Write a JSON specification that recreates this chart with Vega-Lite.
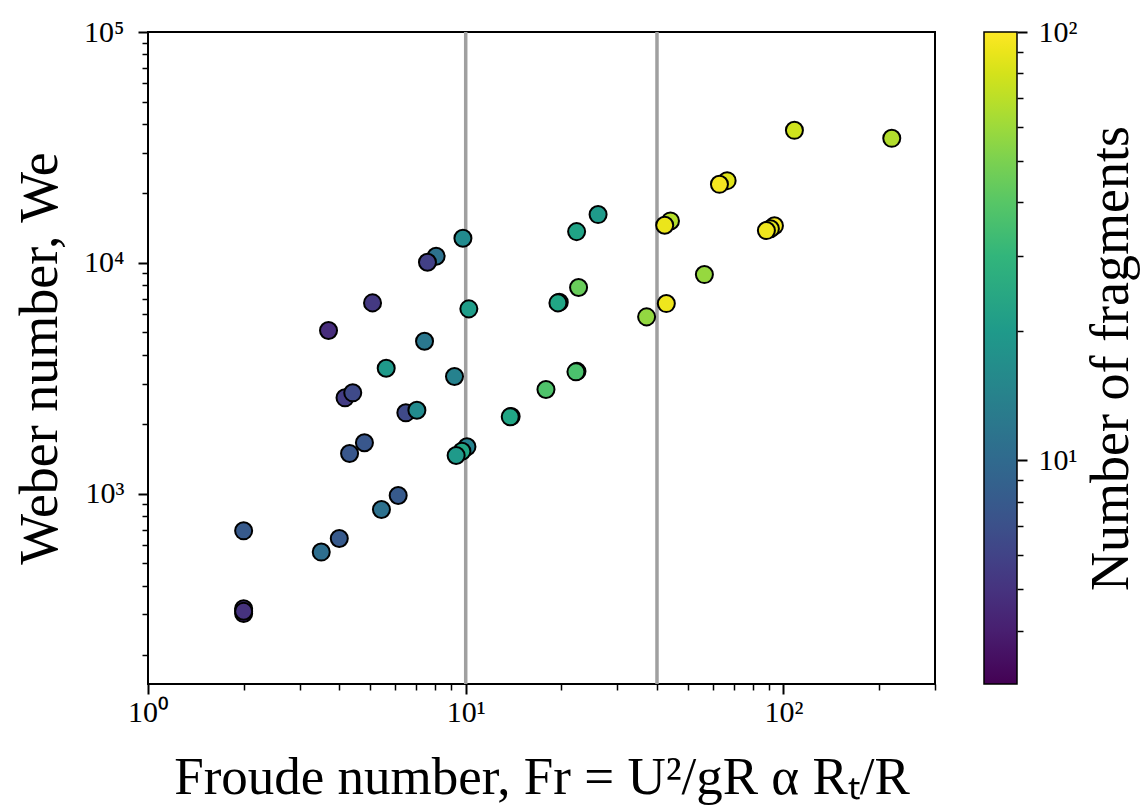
{
  "$schema": "https://vega.github.io/schema/vega-lite/v6.json",
  "autosize": "none",
  "width": 787,
  "height": 652,
  "padding": {"left": 148, "top": 32, "right": 213, "bottom": 126},
  "background": "white",
  "config": {
    "view": {"stroke": "black", "strokeWidth": 2},
    "font": "Liberation Serif"
  },
  "data": {
    "values": [
      {"fr": 2, "we": 318, "n": 5.2},
      {"fr": 2, "we": 303, "n": 4.8},
      {"fr": 2, "we": 310, "n": 5},
      {"fr": 2, "we": 691, "n": 8},
      {"fr": 3.51, "we": 559, "n": 10.5},
      {"fr": 4.0, "we": 640, "n": 8},
      {"fr": 5.43, "we": 855, "n": 11},
      {"fr": 6.13, "we": 983, "n": 8},
      {"fr": 4.31, "we": 1495, "n": 7.7},
      {"fr": 4.8, "we": 1663, "n": 7.7},
      {"fr": 4.17, "we": 2603, "n": 5.5},
      {"fr": 4.41, "we": 2736, "n": 6.5},
      {"fr": 3.7, "we": 5093, "n": 4.7},
      {"fr": 5.09, "we": 6711, "n": 5.3},
      {"fr": 5.62, "we": 3498, "n": 20},
      {"fr": 6.48, "we": 2242, "n": 6.5},
      {"fr": 7.02, "we": 2301, "n": 16},
      {"fr": 7.42, "we": 4578, "n": 12},
      {"fr": 8.07, "we": 10680, "n": 11},
      {"fr": 7.58, "we": 10060, "n": 5.8},
      {"fr": 9.22, "we": 3220, "n": 14},
      {"fr": 9.8, "we": 12780, "n": 16},
      {"fr": 10.23, "we": 6322, "n": 21},
      {"fr": 10.09, "we": 1598, "n": 14},
      {"fr": 9.73, "we": 1529, "n": 24},
      {"fr": 9.33, "we": 1465, "n": 20},
      {"fr": 13.9, "we": 2160, "n": 23},
      {"fr": 13.81, "we": 2154, "n": 24},
      {"fr": 17.89, "we": 2828, "n": 38},
      {"fr": 22.4, "we": 3390, "n": 36},
      {"fr": 22.23, "we": 3373, "n": 37},
      {"fr": 19.7, "we": 6760, "n": 26},
      {"fr": 19.51, "we": 6711, "n": 24},
      {"fr": 22.66, "we": 7820, "n": 45},
      {"fr": 22.34, "we": 13660, "n": 23},
      {"fr": 26.1, "we": 16190, "n": 20},
      {"fr": 37.1, "we": 5837, "n": 57},
      {"fr": 42.8, "we": 6664, "n": 92},
      {"fr": 56.4, "we": 8900, "n": 58},
      {"fr": 44.1, "we": 15200, "n": 68},
      {"fr": 42.3, "we": 14550, "n": 90},
      {"fr": 66.5, "we": 22710, "n": 85},
      {"fr": 62.9, "we": 21890, "n": 95},
      {"fr": 93.7, "we": 14490, "n": 95},
      {"fr": 91.0, "we": 14060, "n": 85},
      {"fr": 88.4, "we": 13800, "n": 92},
      {"fr": 108.3, "we": 37500, "n": 78},
      {"fr": 219.3, "we": 34630, "n": 67}
    ]
  },
  "resolve": {"scale": {"y": "independent"}, "axis": {"y": "independent"}},
  "layer": [
    {
      "layer": [
        {
          "data": {"values": [{"fr": 10}, {"fr": 40}]},
          "mark": {"type": "rule", "color": "#a0a0a0", "strokeWidth": 3.5},
          "encoding": {
            "x": {"field": "fr", "type": "quantitative", "scale": {"type": "log", "domain": [1, 300], "nice": false}}
          }
        },
        {
          "mark": {"type": "circle", "stroke": "black", "strokeWidth": 2, "opacity": 1, "size": 290},
          "encoding": {
            "x": {
              "field": "fr", "type": "quantitative",
              "scale": {"type": "log", "domain": [1, 300], "nice": false},
              "axis": {
                "title": "Froude number, Fr = U²/gR α Rₜ/R",
                "values": [1, 2, 3, 4, 5, 6, 7, 8, 9, 10, 20, 30, 40, 50, 60, 70, 80, 90, 100, 200, 300],
                "labelExpr": "datum.value == 1 ? '10⁰' : datum.value == 10 ? '10¹' : datum.value == 100 ? '10²' : ''",
                "labelOverlap": false,
                "labelFlush": false,
                "labelFont": "Liberation Serif",
                "labelFontSize": 30,
                "labelColor": "black",
                "labelPadding": 3,
                "domain": false,
                "grid": false,
                "tickColor": "black",
                "tickSize": {"condition": {"test": "datum.value == 1 || datum.value == 10 || datum.value == 100", "value": 10}, "value": 6},
                "tickWidth": {"condition": {"test": "datum.value == 1 || datum.value == 10 || datum.value == 100", "value": 2}, "value": 1.5},
                "titleFont": "Liberation Serif",
                "titleFontSize": 53,
                "titleFontWeight": "normal",
                "titleColor": "black",
                "titlePadding": 24,
                "titleLimit": 2000
              }
            },
            "y": {
              "field": "we", "type": "quantitative",
              "scale": {"type": "log", "domain": [150, 100000], "nice": false},
              "axis": {
                "title": "Weber number, We",
                "values": [200, 300, 400, 500, 600, 700, 800, 900, 1000, 2000, 3000, 4000, 5000, 6000, 7000, 8000, 9000, 10000, 20000, 30000, 40000, 50000, 60000, 70000, 80000, 90000, 100000],
                "labelExpr": "datum.value == 1000 ? '10³' : datum.value == 10000 ? '10⁴' : datum.value == 100000 ? '10⁵' : ''",
                "labelOverlap": false,
                "labelFlush": false,
                "labelFont": "Liberation Serif",
                "labelFontSize": 30,
                "labelColor": "black",
                "labelPadding": 14,
                "domain": false,
                "grid": false,
                "tickColor": "black",
                "tickSize": {"condition": {"test": "datum.value == 1000 || datum.value == 10000 || datum.value == 100000", "value": 10}, "value": 6},
                "tickWidth": {"condition": {"test": "datum.value == 1000 || datum.value == 10000 || datum.value == 100000", "value": 2}, "value": 1.5},
                "titleFont": "Liberation Serif",
                "titleFontSize": 54,
                "titleFontWeight": "normal",
                "titleColor": "black",
                "titlePadding": 16,
                "titleLimit": 2000
              }
            },
            "color": {
              "field": "n", "type": "quantitative",
              "scale": {"type": "log", "domain": [3, 100], "scheme": "viridis"},
              "legend": {
                "orient": "none",
                "legendX": 836,
                "legendY": 0,
                "padding": 0,
                "direction": "vertical",
                "gradientLength": 652,
                "gradientThickness": 33,
                "gradientStrokeColor": "black",
                "gradientStrokeWidth": 1.5,
                "labelExpr": "''",
                "title": null
              }
            }
          }
        }
      ]
    },
    {
      "mark": {"type": "point", "opacity": 0},
      "encoding": {
        "x": {"field": "fr", "type": "quantitative", "scale": {"type": "log", "domain": [1, 300], "nice": false}},
        "y": {
          "field": "n", "type": "quantitative",
          "scale": {"type": "log", "domain": [3, 100], "nice": false},
          "axis": {
            "orient": "right",
            "offset": 82,
            "title": "Number of fragments",
            "values": [4, 5, 6, 7, 8, 9, 10, 20, 30, 40, 50, 60, 70, 80, 90, 100],
            "labelExpr": "datum.value == 10 ? '10¹' : datum.value == 100 ? '10²' : ''",
            "labelOverlap": false,
            "labelFlush": false,
            "labelFont": "Liberation Serif",
            "labelFontSize": 30,
            "labelColor": "black",
            "labelPadding": 11,
            "domain": false,
            "grid": false,
            "tickColor": "black",
            "tickSize": {"condition": {"test": "datum.value == 10 || datum.value == 100", "value": 10}, "value": 6},
            "tickWidth": {"condition": {"test": "datum.value == 10 || datum.value == 100", "value": 2}, "value": 1.5},
            "titleFont": "Liberation Serif",
            "titleFontSize": 54,
            "titleFontWeight": "normal",
            "titleColor": "black",
            "titleAngle": -90,
            "titleBaseline": "top",
            "titlePadding": 8,
            "titleLimit": 2000
          }
        }
      }
    }
  ]
}
